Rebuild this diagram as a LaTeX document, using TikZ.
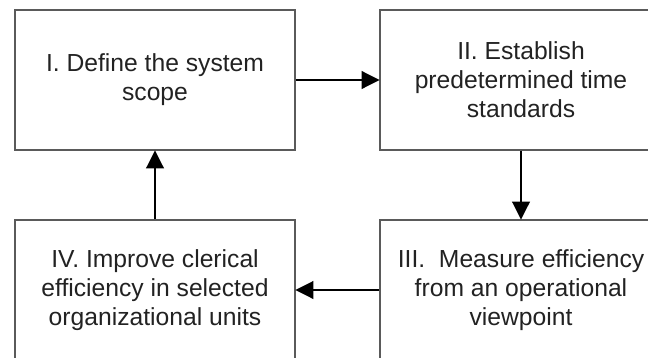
\documentclass[tikz,border=0pt]{standalone}
\usepackage{fontspec}
\setmainfont{Liberation Sans}
\usetikzlibrary{arrows.meta}
\definecolor{boxline}{HTML}{5A5A5A}
\definecolor{txt}{HTML}{222222}
\tikzset{
  stepbox/.style={draw=boxline, line width=1.1pt, minimum width=280*0.75pt, minimum height=140*0.75pt,
    inner sep=0pt, align=center, text=txt, font=\fontsize{18.5}{21.8}\selectfont},
  arr/.style={line width=2.1pt, -{Triangle[length=13.5pt, width=13pt]}, shorten >=-0.3pt}
}
\begin{document}
\begin{tikzpicture}[x=0.75pt, y=-0.75pt]
\useasboundingbox (0,0) rectangle (648,357);
\clip (0,0) rectangle (648,357);
\node[stepbox] (I) at (155,80) {I. Define the system\\scope};
\node[stepbox, minimum width=282*0.75pt] (II) at (521,80) {II. Establish\\predetermined time\\standards};
\node[stepbox, minimum width=282*0.75pt] (III) at (521,290) {III.\ \ Measure efficiency\\from an operational\\viewpoint};
\node[stepbox] (IV) at (155,290) {IV. Improve clerical\\efficiency in selected\\organizational units};
\draw[arr] (I.east) -- (II.west);
\draw[arr] (II.south) -- (III.north);
\draw[arr] (III.west) -- (IV.east);
\draw[arr] (IV.north) -- (I.south);
\end{tikzpicture}
\end{document}
